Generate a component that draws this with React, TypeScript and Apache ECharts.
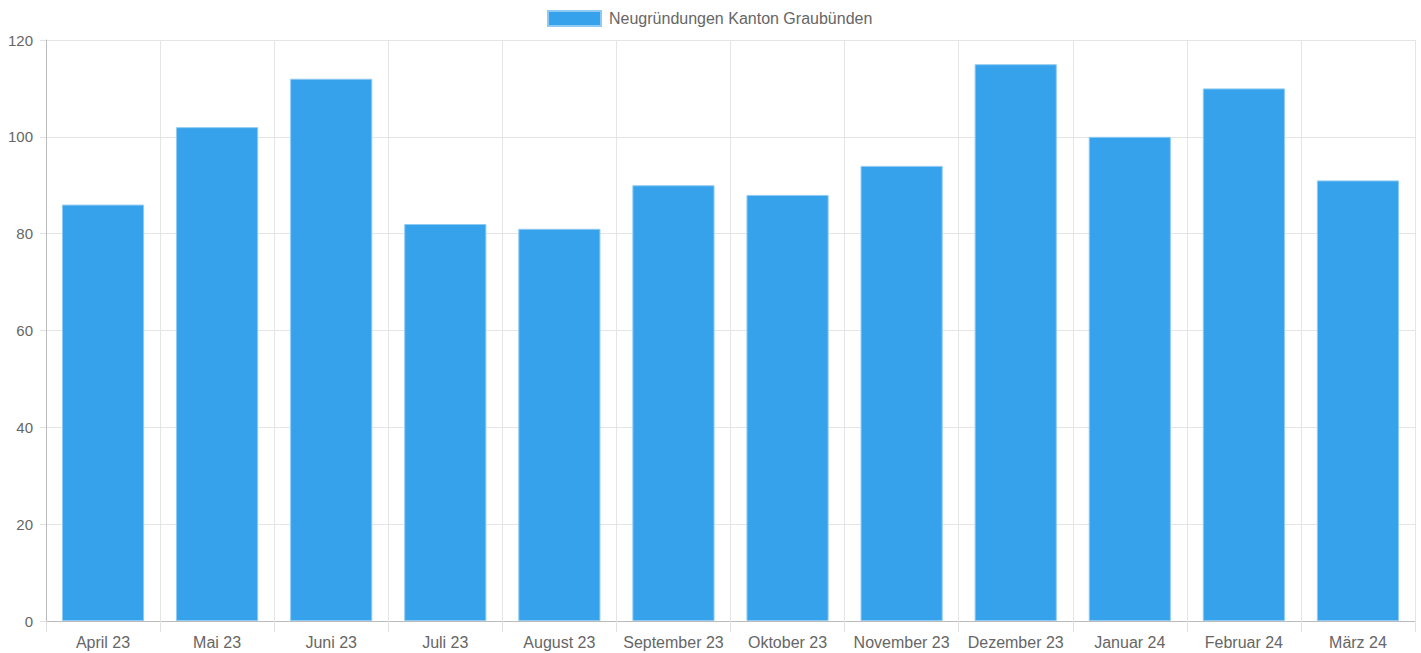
import React, { useEffect, useRef } from "react";
import * as echarts from "echarts";

const categories = [
  "April 23", "Mai 23", "Juni 23", "Juli 23", "August 23", "September 23",
  "Oktober 23", "November 23", "Dezember 23", "Januar 24", "Februar 24", "März 24",
];
const seriesName = "Neugründungen Kanton Graubünden";
const values = [86, 102, 112, 82, 81, 90, 88, 94, 115, 100, 110, 91];
const yMin = 0;
const yMax = 120;
const yInterval = 20;

export default function App() {
  const ref = useRef<HTMLDivElement>(null);
  useEffect(() => {
    if (!ref.current) return;
    const chart = echarts.init(ref.current, undefined, { renderer: "svg" });
    const font = "Arial, Liberation Sans, Helvetica, sans-serif";
    chart.setOption({
      animation: false,
      textStyle: { fontFamily: font },
      legend: {
        top: 5,
        left: 542,
        itemWidth: 53,
        itemHeight: 15,
        itemGap: 10,
        textStyle: { color: "#666", fontSize: 16, fontFamily: font, padding: [0, 0, 0, 3] },
        data: [{ name: seriesName, icon: "rect" }],
      },
      grid: { left: 46, right: 6, top: 40, bottom: 32, containLabel: false },
      xAxis: {
        type: "category",
        data: categories,
        boundaryGap: true,
        axisLine: { show: true, lineStyle: { color: "#bbb", width: 1 } },
        axisTick: { show: true, length: 11, lineStyle: { color: "#e0e0e0" } },
        splitLine: { show: true, lineStyle: { color: "#e5e5e5", width: 1 } },
        axisLabel: { color: "#666", fontSize: 16, margin: 13, fontFamily: font, interval: 0 },
      },
      yAxis: {
        type: "value",
        min: yMin,
        max: yMax,
        interval: yInterval,
        axisLine: { show: true, lineStyle: { color: "#bbb", width: 1 } },
        axisTick: { show: true, length: 6, lineStyle: { color: "#e0e0e0" } },
        splitLine: { show: true, lineStyle: { color: "#e5e5e5", width: 1 } },
        axisLabel: { color: "#666", fontSize: 15, margin: 13, fontFamily: font },
      },
      series: [
        {
          name: seriesName,
          type: "bar",
          data: values,
          barWidth: "72%",
          itemStyle: {
            color: "#36A2EB",
            borderColor: "#8fcaf3",
            borderWidth: 1,
          },
        },
      ],
    });
    return () => chart.dispose();
  }, []);
  return (
    <div
      ref={ref}
      style={{ position: "fixed", left: 0, top: 0, width: 1421, height: 653, background: "#fff" }}
    />
  );
}
